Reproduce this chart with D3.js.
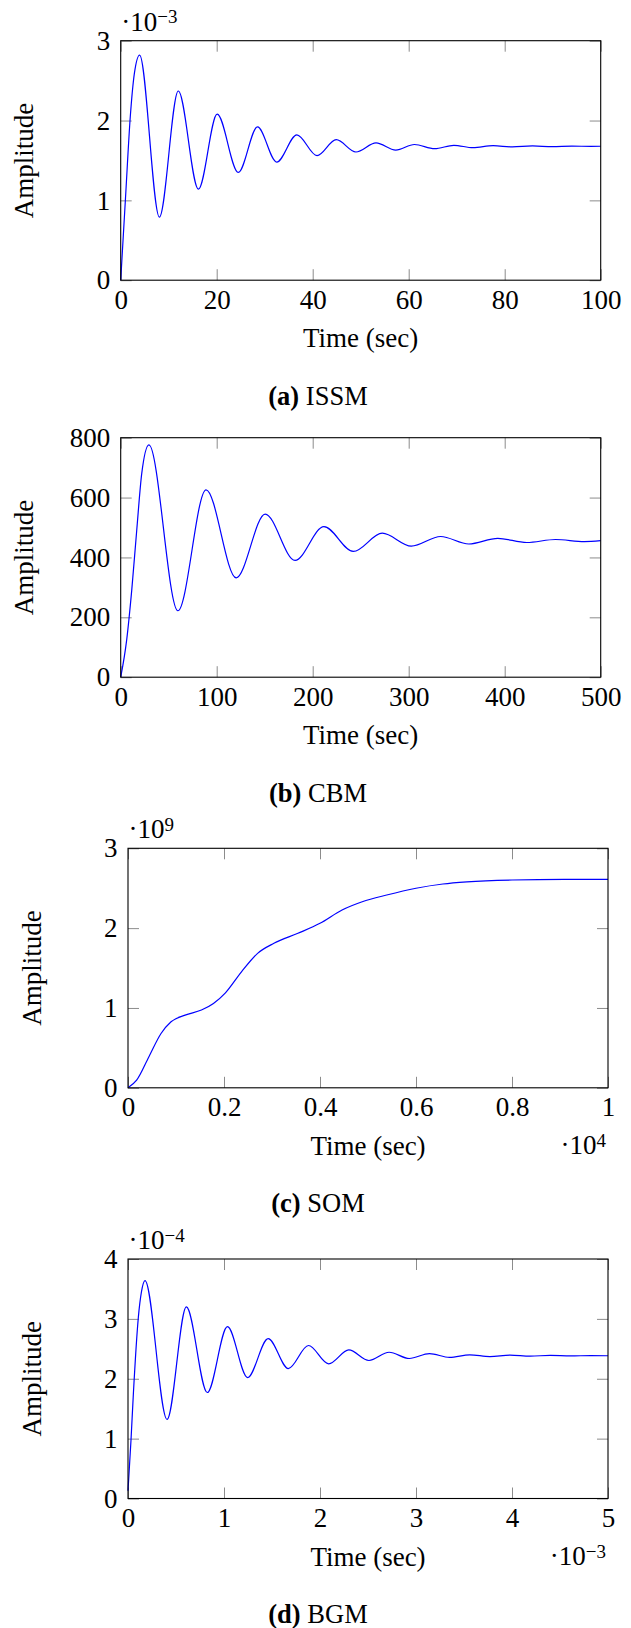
<!DOCTYPE html>
<html>
<head>
<meta charset="utf-8">
<script src="https://cdn.jsdelivr.net/npm/d3@7"></script>
<style>
  body { margin: 0; background: #fff; }
  svg { display: block; }
</style>
</head>
<body>
<svg width="631" height="1628"></svg>
<script>
// (a) ISSM - time in sec, amplitude in units of 1e-3
var issmT = [0, 1, 2, 2.85, 3.94, 8.06, 12.0, 16.2, 20.1, 24.5, 28.5, 32.5, 36.7, 40.9, 44.9, 49.0, 53.2, 57.3, 61.2, 65.4, 69.4, 73.4, 77.6, 81.6, 85.8, 89.9, 94.0, 98.0, 100];
var issmY = [0, 1.03, 2.05, 2.59, 2.82, 0.79, 2.37, 1.14, 2.08, 1.35, 1.92, 1.48, 1.82, 1.56, 1.76, 1.606, 1.72, 1.63, 1.70, 1.647, 1.69, 1.66, 1.685, 1.67, 1.682, 1.673, 1.68, 1.676, 1.678];
var issmXTicks = [0, 20, 40, 60, 80, 100];
var issmXLabels = ["0", "20", "40", "60", "80", "100"];
var issmYTicks = [0, 1, 2, 3];
var issmYLabels = ["0", "1", "2", "3"];

// (b) CBM - time in sec, amplitude as is
var cbmT = [0, 6.2, 11.5, 16.7, 21.9, 29.4, 59.6, 88.9, 120.3, 150.5, 181.6, 211.7, 242.3, 272.5, 302.7, 333.3, 362.6, 392.8, 423, 453, 483, 500];
var cbmY = [0, 124, 291, 491, 680, 776, 222, 626, 332, 545, 390, 503, 420, 481, 438, 470, 445, 464, 450, 460, 453, 456];
var cbmXTicks = [0, 100, 200, 300, 400, 500];
var cbmXLabels = ["0", "100", "200", "300", "400", "500"];
var cbmYTicks = [0, 200, 400, 600, 800];
var cbmYLabels = ["0", "200", "400", "600", "800"];

// (c) SOM - time in units of 1e4 sec, amplitude in units of 1e9
var somT = [0, 0.018, 0.0436, 0.0688, 0.0897, 0.119, 0.153, 0.178, 0.203, 0.236, 0.270, 0.304, 0.354, 0.40, 0.446, 0.488, 0.539, 0.60, 0.656, 0.706, 0.80, 0.909, 1.0];
var somY = [0, 0.096, 0.39, 0.68, 0.827, 0.911, 0.974, 1.057, 1.19, 1.45, 1.684, 1.81, 1.935, 2.06, 2.227, 2.33, 2.415, 2.50, 2.553, 2.58, 2.603, 2.61, 2.61];
var somXTicks = [0, 0.2, 0.4, 0.6, 0.8, 1];
var somXLabels = ["0", "0.2", "0.4", "0.6", "0.8", "1"];
var somYTicks = [0, 1, 2, 3];
var somYLabels = ["0", "1", "2", "3"];

// (d) BGM - time in units of 1e-3 sec, amplitude in units of 1e-4
var bgmT = [0, 0.031, 0.056, 0.108, 0.14, 0.177, 0.407, 0.608, 0.826, 1.036, 1.246, 1.46, 1.67, 1.88, 2.09, 2.30, 2.51, 2.72, 2.93, 3.14, 3.35, 3.56, 3.77, 3.98, 4.19, 4.40, 4.61, 4.82, 5.0];
var bgmY = [0.13, 0.97, 1.75, 3.03, 3.45, 3.64, 1.32, 3.2, 1.77, 2.87, 2.02, 2.67, 2.17, 2.555, 2.25, 2.483, 2.305, 2.443, 2.338, 2.42, 2.357, 2.40, 2.37, 2.395, 2.378, 2.39, 2.381, 2.387, 2.384];
var bgmXTicks = [0, 1, 2, 3, 4, 5];
var bgmXLabels = ["0", "1", "2", "3", "4", "5"];
var bgmYTicks = [0, 1, 2, 3, 4];
var bgmYLabels = ["0", "1", "2", "3", "4"];

var FONT = "'Liberation Serif', 'Times New Roman', serif";
var FS = 27;
var W = 480, H = 239.5;

var panels = [
    {tag: "(a)", name: "ISSM", t: issmT, y: issmY, left: 120.7, top: 40.7,
     xDom: [0, 100], yDom: [0, 3], xTicks: issmXTicks, xLabels: issmXLabels,
     yTicks: issmYTicks, yLabels: issmYLabels, yExp: "\u22123", xExp: null},
    {tag: "(b)", name: "CBM", t: cbmT, y: cbmY, left: 120.7, top: 437.7,
     xDom: [0, 500], yDom: [0, 800], xTicks: cbmXTicks, xLabels: cbmXLabels,
     yTicks: cbmYTicks, yLabels: cbmYLabels, yExp: null, xExp: null},
    {tag: "(c)", name: "SOM", t: somT, y: somY, left: 128, top: 848.3,
     xDom: [0, 1], yDom: [0, 3], xTicks: somXTicks, xLabels: somXLabels,
     yTicks: somYTicks, yLabels: somYLabels, yExp: "9", xExp: "4"},
    {tag: "(d)", name: "BGM", t: bgmT, y: bgmY, left: 128, top: 1259,
     xDom: [0, 5], yDom: [0, 4], xTicks: bgmXTicks, xLabels: bgmXLabels,
     yTicks: bgmYTicks, yLabels: bgmYLabels, yExp: "\u22124", xExp: "\u22123"}
];

var svg = d3.select("svg");
svg.append("rect").attr("width", 631).attr("height", 1628).attr("fill", "#fff");

panels.forEach(drawPanel);

function multiplier(sel, exp) {
    sel.append("tspan").text("\u00b710");
    sel.append("tspan").attr("font-size", 19).attr("dy", -7.5).text(exp);
}

function drawPanel(p) {
    var x = d3.scaleLinear().domain(p.xDom).range([0, W]);
    var y = d3.scaleLinear().domain(p.yDom).range([H, 0]);

    var g = svg.append("g").attr("transform", "translate(" + p.left + "," + p.top + ")");

    // ticks on all four sides, pointing inward
    g.append("g").attr("transform", "translate(0," + H + ")")
        .call(d3.axisBottom(x).tickValues(p.xTicks).tickSize(-11).tickPadding(9.3)
            .tickFormat(function (d, i) { return p.xLabels[i]; }));
    g.append("g")
        .call(d3.axisLeft(y).tickValues(p.yTicks).tickSize(-11).tickPadding(10.5)
            .tickFormat(function (d, i) { return p.yLabels[i]; }));
    g.append("g")
        .call(d3.axisTop(x).tickValues(p.xTicks).tickSize(-11).tickFormat(""));
    g.append("g").attr("transform", "translate(" + W + ",0)")
        .call(d3.axisRight(y).tickValues(p.yTicks).tickSize(-11).tickFormat(""));

    g.selectAll(".domain").remove();
    g.selectAll(".tick line").attr("stroke", "#8c8c8c").attr("stroke-width", 1);
    g.selectAll(".tick text")
        .attr("fill", "#000")
        .attr("font-family", FONT)
        .attr("font-size", FS);

    // the response curve
    var pts = p.t.map(function (d, i) { return [d, p.y[i]]; });
    var line = d3.line()
        .x(function (d) { return x(d[0]); })
        .y(function (d) { return y(d[1]); })
        .curve(d3.curveMonotoneX);
    g.append("path")
        .attr("d", line(pts))
        .attr("fill", "none")
        .attr("stroke", "#0000ff")
        .attr("stroke-width", 1.2);

    // frame
    g.append("rect")
        .attr("width", W).attr("height", H)
        .attr("fill", "none")
        .attr("stroke", "#000")
        .attr("stroke-width", 1.1);

    var txt = g.append("g").attr("font-family", FONT).attr("font-size", FS).attr("fill", "#000");

    txt.append("text")
        .attr("x", W / 2).attr("y", H + 67.3)
        .attr("text-anchor", "middle")
        .text("Time (sec)");

    txt.append("text")
        .attr("transform", "translate(-87.5," + (H / 2) + ") rotate(-90)")
        .attr("text-anchor", "middle")
        .text("Amplitude");

    if (p.yExp) {
        txt.append("text").attr("x", 0.5).attr("y", -10).call(multiplier, p.yExp);
    }
    if (p.xExp) {
        txt.append("text").attr("x", W - 2).attr("y", H + 66.5)
            .attr("text-anchor", "end").call(multiplier, p.xExp);
    }

    var cap = txt.append("text")
        .attr("x", 318 - p.left).attr("y", H + 124.5)
        .attr("font-size", 26.5)
        .attr("text-anchor", "middle");
    cap.append("tspan").attr("font-weight", "bold").text(p.tag);
    cap.append("tspan").text(" " + p.name);
}
</script>
</body>
</html>
